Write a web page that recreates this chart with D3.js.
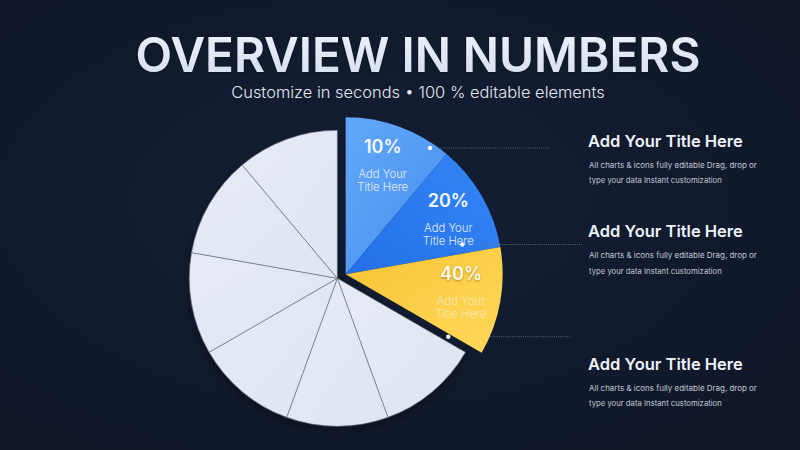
<!DOCTYPE html>
<html>
<head>
<meta charset="utf-8">
<script src="https://cdn.jsdelivr.net/npm/d3@7"></script>
<style>
  html, body { margin: 0; padding: 0; background: #111a2d; }
  svg { display: block; }
</style>
</head>
<body>
<svg id="chart" width="800" height="450"></svg>
<script>
// ---- data ----
const sliceNames   = ["A", "B", "C", "D", "E", "F", "G", "H", "I"];
const sliceShares  = [1, 1, 1, 1, 1, 1, 1, 1, 1];
const highlightIdx = [0, 1, 2];
const sliceLabels  = ["10%", "20%", "40%"];
const sliceSubtitle = ["Add Your", "Title Here"];
const sideTitles   = ["Add Your Title Here", "Add Your Title Here", "Add Your Title Here"];
const sideDesc     = ["All charts & icons fully editable Drag, drop or", "type your data Instant customization"];
const titleText    = "OVERVIEW IN NUMBERS";
const subtitleText = "Customize in seconds \u2022 100 % editable elements";

const W = 800, H = 450;
const svg = d3.select("#chart");
const defs = svg.append("defs");

// background
const bg = defs.append("radialGradient").attr("id", "bg").attr("cx", "45%").attr("cy", "45%").attr("r", "75%");
bg.append("stop").attr("offset", "0%").attr("stop-color", "#141e34");
bg.append("stop").attr("offset", "100%").attr("stop-color", "#0f1728");
svg.append("rect").attr("width", W).attr("height", H).attr("fill", "url(#bg)");

// gradients
function lin(id, x1, y1, x2, y2, c1, c2) {
  const g = defs.append("linearGradient").attr("id", id)
    .attr("x1", x1).attr("y1", y1).attr("x2", x2).attr("y2", y2);
  g.append("stop").attr("offset", "0%").attr("stop-color", c1);
  g.append("stop").attr("offset", "100%").attr("stop-color", c2);
}
lin("gBlue1", "0%", "0%", "100%", "100%", "#62a8f8", "#478ef0");
lin("gBlue2", "100%", "0%", "0%", "100%", "#3487f6", "#236fe8");
lin("gYel", "0%", "0%", "100%", "100%", "#f7c535", "#ffd85a");
lin("gGray", "0%", "0%", "100%", "100%", "#e6ebf5", "#dfe5f1");
lin("gTitle", "0%", "0%", "0%", "100%", "#eef3fc", "#d4def0");
const fillIds = ["url(#gBlue1)", "url(#gBlue2)", "url(#gYel)"];

const sh = defs.append("filter").attr("id", "shadow").attr("x", "-20%").attr("y", "-20%").attr("width", "140%").attr("height", "140%");
sh.append("feDropShadow").attr("dx", 0).attr("dy", 3).attr("stdDeviation", 5).attr("flood-color", "#000").attr("flood-opacity", 0.4);
const ts = defs.append("filter").attr("id", "tshadow").attr("x", "-20%").attr("y", "-40%").attr("width", "140%").attr("height", "180%");
ts.append("feDropShadow").attr("dx", 0).attr("dy", 1).attr("stdDeviation", 1).attr("flood-color", "#000").attr("flood-opacity", 0.35);

// fit helper
function fitText(sel, targetWidth) {
  const w = sel.node().getComputedTextLength();
  const fs = parseFloat(sel.attr("font-size"));
  sel.attr("font-size", fs * targetWidth / w);
}

// title
const t = svg.append("text").attr("x", 418).attr("y", 71.5).attr("text-anchor", "middle")
  .attr("font-family", "Inter, 'Noto Sans', sans-serif").attr("font-weight", 600)
  .attr("font-size", 52).attr("fill", "url(#gTitle)").attr("filter", "url(#tshadow)").text(titleText);
fitText(t, 565);
const st = svg.append("text").attr("x", 418).attr("y", 98).attr("text-anchor", "middle")
  .attr("font-family", "Inter, 'Noto Sans', sans-serif").attr("font-weight", 300)
  .attr("font-size", 16).attr("fill", "#e3e8f2").text(subtitleText);
fitText(st, 374);

// pie
const pie = d3.pie().value(d => d).sort(null);
const arcs = pie(sliceShares);
const grayR = 148, colR = 157;
const grayC = [337.3, 278.3], colC = [345.7, 274.3];
const arcGray = d3.arc().innerRadius(0).outerRadius(grayR);
const arcCol = d3.arc().innerRadius(0).outerRadius(colR);

const gGray = svg.append("g").attr("transform", `translate(${grayC})`).attr("filter", "url(#shadow)");
gGray.selectAll("path").data(arcs.filter((d, i) => !highlightIdx.includes(i)))
  .join("path").attr("d", arcGray).attr("fill", "url(#gGray)")
  .attr("stroke", "#666d7a").attr("stroke-width", 0.6);

const gCol = svg.append("g").attr("transform", `translate(${colC})`);
gCol.selectAll("path").data(arcs.filter((d, i) => highlightIdx.includes(i)))
  .join("path").attr("d", arcCol).attr("fill", (d, i) => fillIds[i]);

// slice labels
const labelPos = [[382.7, 153.3], [448.3, 207.3], [461, 280]];
const subColors = ["#e1ecfc", "#e3edfc", "#f6e7b4"];
labelPos.forEach((p, i) => {
  svg.append("text").attr("x", p[0]).attr("y", p[1]).attr("text-anchor", "middle")
    .attr("font-family", "Inter, 'Noto Sans', sans-serif").attr("font-weight", 600)
    .attr("font-size", 18).attr("fill", i === 2 ? "#fbf6e6" : "#f3f7fe")
    .attr("filter", i === 2 ? "url(#tshadow)" : null).text(sliceLabels[i]);
  sliceSubtitle.forEach((s, j) => {
    svg.append("text").attr("x", p[0]).attr("y", p[1] + 24.5 + j * 13.5).attr("text-anchor", "middle")
      .attr("font-family", "Inter, 'Noto Sans', sans-serif").attr("font-weight", 300)
      .attr("font-size", 11.3).attr("fill", subColors[i]).text(s);
  });
});

// connectors
const dots = [[430, 148], [462.3, 244.5], [448.3, 336.7]];
const lineEnds = [[440, 550], [480, 583], [490, 570]];
dots.forEach((d, i) => {
  svg.append("line").attr("x1", lineEnds[i][0]).attr("x2", lineEnds[i][1])
    .attr("y1", d[1]).attr("y2", d[1]).attr("stroke", "#6f7a8e").attr("stroke-width", 0.8)
    .attr("stroke-dasharray", "1,1.2");
  svg.append("circle").attr("cx", d[0]).attr("cy", d[1]).attr("r", 2.2).attr("fill", "#f4f7fc");
});

// side text blocks
const blockY = [146.7, 237.3, 370];
blockY.forEach((y, i) => {
  const tt = svg.append("text").attr("x", 588).attr("y", y)
    .attr("font-family", "Inter, 'Noto Sans', sans-serif").attr("font-weight", 600)
    .attr("font-size", 16.5).attr("fill", "#eef2fa").text(sideTitles[i]);
  fitText(tt, 155);
  sideDesc.forEach((s, j) => {
    const dt = svg.append("text").attr("x", 589).attr("y", y + 21 + j * 15.3)
      .attr("font-family", "Inter, 'Noto Sans', sans-serif").attr("font-weight", 400)
      .attr("font-size", 9).attr("fill", "#c3c9d6").text(s);
    fitText(dt, j === 0 ? 168 : 133);
  });
});
</script>
</body>
</html>
